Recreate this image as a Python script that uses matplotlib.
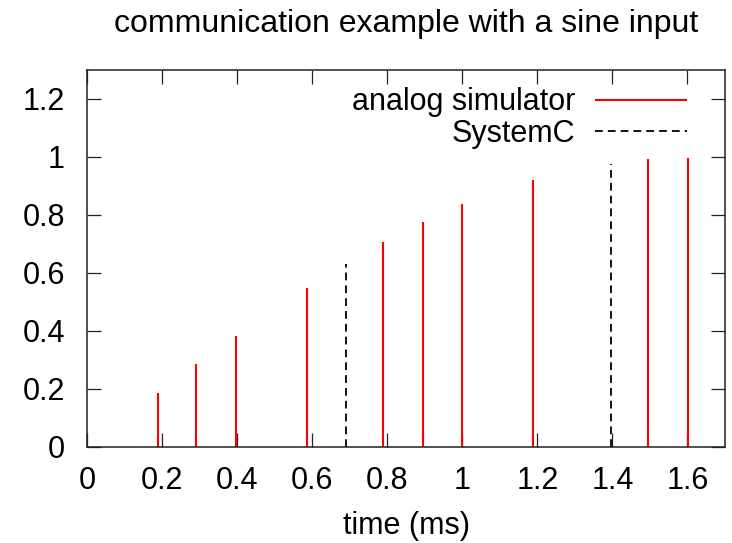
import matplotlib
matplotlib.use('Agg')
import matplotlib.pyplot as plt

# analog simulator output (impulses)
analog_t = [0.189, 0.291, 0.396, 0.586, 0.790, 0.895, 0.999, 1.188, 1.496, 1.601]
analog_v = [0.187, 0.287, 0.383, 0.548, 0.707, 0.777, 0.836, 0.922, 0.993, 0.997]

# SystemC output (impulses)
systemc_t = [0.690, 1.397]
systemc_v = [0.632, 0.974]

x_ticks = [0, 0.2, 0.4, 0.6, 0.8, 1.0, 1.2, 1.4, 1.6]
x_labels = ['0', '0.2', '0.4', '0.6', '0.8', '1', '1.2', '1.4', '1.6']
y_ticks = [0, 0.2, 0.4, 0.6, 0.8, 1.0, 1.2]
y_labels = ['0', '0.2', '0.4', '0.6', '0.8', '1', '1.2']

plt.rcParams['font.family'] = ['Liberation Sans', 'DejaVu Sans']
fs = 22

fig = plt.figure(figsize=(7.32, 5.43), dpi=100)
ax = fig.add_axes([0.1189, 0.1773, 0.8715, 0.6938])

ax.vlines(analog_t, 0, analog_v, colors='#ff0000', linewidth=1.5, label='analog simulator')
ax.vlines(systemc_t, 0, systemc_v, colors='black', linewidth=1.3,
          linestyles=(0, (4.3, 2.8)), label='SystemC')

ax.set_xlim(0, 1.7)
ax.set_ylim(0, 1.3)
ax.set_xticks(x_ticks)
ax.set_xticklabels(x_labels)
ax.set_yticks(y_ticks)
ax.set_yticklabels(y_labels)
ax.tick_params(direction='in', length=10, width=0.9, top=True, right=True,
               labelsize=fs, color='#222222')
ax.tick_params(axis='x', pad=14)
ax.tick_params(axis='y', pad=16)
for s in ax.spines.values():
    s.set_linewidth(1.1)
    s.set_color('#222222')

ax.set_xlabel('time (ms)', fontsize=fs, labelpad=11)
ax.set_title('communication example with a sine input', fontsize=23, pad=27)

ax.legend(loc='upper right', frameon=False, markerfirst=False, fontsize=fs,
          handlelength=3.0, handletextpad=0.65, borderaxespad=0.0,
          borderpad=0.2, labelspacing=0.05,
          bbox_to_anchor=(0.95, 0.97))

fig.savefig('out.png', dpi=100)
